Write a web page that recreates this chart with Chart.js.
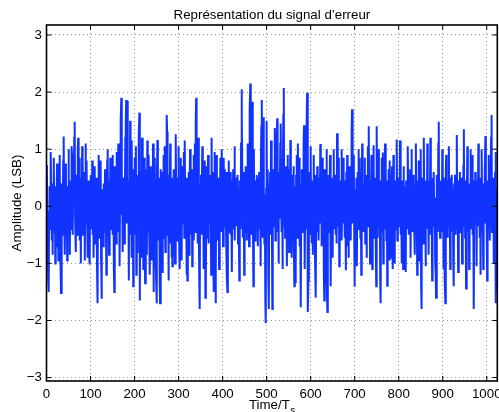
<!DOCTYPE html>
<html>
<head>
<meta charset="utf-8">
<script src="https://cdn.jsdelivr.net/npm/chart.js@4.4.0/dist/chart.umd.min.js"></script>
<style>
    html, body { margin: 0; padding: 0; background: #fff; }
    #wrap { width: 499px; height: 412px; }
</style>
</head>
<body>
<div id="wrap"><canvas id="errChart" width="499" height="412"></canvas></div>
<script>
// Chart texts
const titleText = 'Représentation du signal d’erreur';
const yLabelText = 'Amplitude (LSB)';
const xLabelText = 'Time/T';
const xLabelSub = 's';

// Tick labels
const xTicks = [0, 100, 200, 300, 400, 500, 600, 700, 800, 900, 1000];
const yTicks = [-3, -2, -1, 0, 1, 2, 3];

// Error signal, one value per sample (LSB)
const errorSignal = [
    0.72, 0.6, -0.35, -0.9, -1.3, -1.5, -0.1, 0.35, -0.4, 0.8, 0.95, 0.15, -0.6, 0.25, -0.85, 0.4,
    -0.05, 0.85, -0.45, 0.2, -1.0, 0.35, -0.7, 0.1, 0.75, -0.35, 0.05, -0.95, 0.3, -0.15, 0.9, -0.4,
    -1.1, -1.52, -0.15, 0.4, -0.5, 0.05, 0.8, 1.22, -0.1, 0.4, -0.85, 0.25, 0.75, -0.2, 0.15, -0.95,
    0.35, -0.05, 1.0, -0.3, 0.2, -0.85, 0.45, 0.05, -0.4, 1.05, 0.9, 0.3, -0.5, 0.55, 0.0, 1.2,
    1.48, -0.2, 0.3, -0.8, 0.55, 0.1, -0.5, 1.0, 1.2, -0.3, 0.15, 0.85, -0.6, 0.25, -1.0, 0.5,
    -0.35, 1.05, 0.9, -0.5, 0.4, -0.2, 0.6, -0.95, 0.2, 1.1, -0.3, 0.8, -0.05, 0.3, -0.9, 0.1,
    0.45, -0.85, -1.02, 0.15, 0.55, -0.4, 0.05, -0.2, 0.8, -0.5, 0.2, -0.9, 0.4, -0.45, 0.7, -0.65,
    0.05, 0.5, -0.3, -1.2, -1.7, 0.35, -0.15, 0.9, -0.55, 0.1, -0.35, 0.8, -0.9, -1.62, 0.3, -0.2,
    0.15, -0.7, 0.4, -0.45, 0.05, 0.65, -0.25, 0.3, -1.2, 0.2, 0.8, 1.0, -0.5, 0.45, -0.85, 0.2,
    -0.6, 0.85, 0.1, -0.4, 0.55, -0.2, 0.9, -0.5, 0.4, -1.1, -1.5, 0.7, -0.2, 0.3, -0.65, 0.95,
    -0.1, 0.2, -0.45, 1.1, -0.3, 0.4, -1.05, 0.15, 0.6, 1.5, 1.9, -0.15, 0.3, -0.8, 0.45, -0.25,
    0.5, -0.65, 0.05, 1.2, 1.4, 1.86, -0.3, 0.2, 1.85, -0.2, 0.35, -1.3, 0.45, -0.5, 1.5, -0.1,
    0.3, -0.9, 1.15, -0.35, 0.15, -1.4, 0.65, -0.05, 0.85, -0.5, 0.25, 1.05, -1.2, 0.1, -0.8, 0.55,
    -0.2, 0.45, 1.2, 1.64, -1.65, 0.3, -0.15, 0.6, -0.9, 1.2, -0.25, 0.2, -1.1, 0.5, 0.85, -0.35,
    -1.35, 0.65, -0.2, 0.35, -0.85, 1.15, 0.05, -0.45, 0.9, -0.3, 0.2, -1.2, 0.7, -0.05, 0.4, -0.95,
    0.3, -0.2, 1.1, -1.5, 0.15, 0.85, -0.4, 0.45, -1.0, -1.3, -1.7, 0.35, 1.16, -0.3, 0.2, -0.6,
    0.5, -1.3, -1.7, 0.3, 0.65, -0.45, 0.1, -1.15, 0.6, -0.25, 0.9, -0.55, 1.05, 0.05, -0.8, 0.2,
    -0.5, 1.6, 1.3, 0.3, 0.55, -1.3, 0.4, -0.3, 0.15, 1.1, -0.65, 0.25, -0.9, 0.5, -1.05, 0.35,
    -0.2, 0.65, -0.85, 0.1, -1.0, 0.9, 1.26, -0.3, 0.2, -0.6, 0.5, -0.15, 1.05, -0.5, 0.3, -1.1,
    0.2, 0.85, -0.4, -0.95, 0.45, -0.1, 0.7, -0.3, 0.95, -0.55, 1.15, 0.05, -0.45, 0.35, -1.2, 0.5,
    -1.3, 0.3, -0.05, 0.6, -0.85, 0.15, 1.0, -0.5, 0.4, -0.2, 0.65, -1.05, 0.2, -0.3, 0.9, -0.6,
    0.1, 1.1, -0.45, 1.5, 1.9, -0.2, 0.5, -0.65, 0.25, 1.2, -0.35, -1.3, -1.8, 0.4, -0.25, 0.55,
    -0.5, 0.2, 1.05, -0.3, 0.35, -1.1, 0.6, -0.15, 0.8, -1.6, -1.2, -0.2, 0.7, -0.55, 0.05, 0.9,
    -0.65, 0.2, -0.3, 0.55, -0.1, 0.35, -1.2, 1.2, -0.4, 0.6, 0.05, -1.1, -1.5, 0.45, 0.95, -0.25,
    -1.7, -1.2, 0.9, -0.2, 0.4, -0.6, 0.15, 0.5, -1.1, 0.25, -0.3, 0.85, -0.45, 0.1, 1.0, -0.2,
    0.35, -0.7, 0.2, 0.85, -0.35, 0.65, -0.15, 0.3, -0.55, 0.6, -1.2, -1.5, 0.5, -0.25, 0.8, -0.45,
    0.2, 0.6, -0.5, 0.3, -0.05, -1.15, 0.45, -0.3, 0.65, -0.4, 0.15, 1.05, -0.6, 0.25, -0.2, 0.5,
    -0.35, 0.1, 0.55, -0.65, 0.3, -0.2, -1.3, 0.45, 0.05, -0.4, 1.1, 2.05, 1.6, 0.35, -0.55, 0.2,
    0.6, -1.2, 0.3, -0.45, 0.7, -0.1, 0.4, -0.6, 0.15, 1.1, -0.3, 0.5, -0.7, 0.2, 1.7, 2.15,
    -0.2, 0.65, -0.5, 1.4, 1.83, 0.1, -1.4, 1.0, -0.35, 0.25, -0.6, 0.45, -0.15, 0.55, -0.45, 0.5,
    -0.7, 0.3, -0.05, 0.6, -0.4, 0.2, -1.05, 0.45, 1.4, 1.86, 0.05, -0.55, 1.56, -0.3, 0.35, -0.65,
    0.2, -1.6, -2.05, 0.3, 1.5, -0.45, 0.15, 0.65, -1.3, -1.8, 0.4, -0.1, 0.6, -0.5, 1.15, -0.3,
    0.45, -1.8, 0.25, -0.35, 0.65, -0.2, 1.1, 1.37, -0.6, 0.35, -0.3, 1.2, 1.54, -0.45, 0.15, -1.0,
    0.6, -0.2, 0.3, 1.1, 1.45, 0.05, -0.45, 0.5, -1.1, 0.3, 1.6, 2.07, -0.35, 0.4, -0.55, 0.7,
    -0.25, 0.2, -1.05, 0.45, 0.9, -0.5, 0.65, -0.8, 0.3, -0.1, 1.16, -0.65, 0.4, -0.9, 0.55, -0.4,
    0.15, 0.7, -0.45, -1.4, 0.35, 0.05, -1.35, 0.55, -0.2, 0.9, -0.55, 1.1, -0.3, 0.2, 0.85, -0.7,
    0.4, -1.4, -1.77, 0.3, 0.65, -0.45, 0.1, -0.3, 1.1, 1.42, -0.2, -1.1, 0.45, -0.4, 0.25, 1.5,
    1.99, 0.15, -1.85, -1.3, -0.3, 0.6, -0.5, 0.2, 1.05, -0.1, -0.65, 0.45, 0.05, -0.85, 0.3, 0.9,
    -0.55, 0.2, -0.95, 0.55, -1.6, 0.4, -0.05, 0.7, -0.45, 0.3, -0.6, 0.1, 0.5, -0.3, 1.09, -0.2,
    0.35, -0.7, 0.2, 0.85, -0.35, 0.45, -1.2, -1.65, 0.65, -0.25, 0.3, -0.55, 1.0, -1.3, -1.85, 0.45,
    -0.2, 0.55, -0.45, 0.25, 0.9, -0.1, -1.4, 0.4, -0.3, 0.5, -0.9, 0.15, 1.0, -0.4, 0.3, -0.05,
    0.55, -0.5, 0.2, -0.65, 1.28, -0.2, 0.4, -0.35, 0.85, -1.05, 0.1, 0.45, -0.25, 0.3, 1.0, -0.6,
    0.2, -0.3, 0.85, -0.15, 0.35, -0.55, 0.45, 0.05, -1.12, 0.6, -0.2, 0.9, -0.7, 0.5, -0.9, 0.25,
    0.7, -0.45, 0.1, -0.6, 0.4, 1.3, 1.7, -0.3, 0.45, -0.2, 0.9, -0.5, -1.41, 0.3, 0.15, -0.85,
    0.5, -1.05, 0.25, 0.6, -0.2, 1.0, -0.4, 0.05, 0.85, -0.55, 0.3, -1.2, 0.2, 1.1, -0.3, 0.4,
    -0.45, 0.2, -0.1, 0.85, -0.65, 0.35, 0.05, -0.9, 0.55, -0.25, 1.05, -0.35, 1.4, -0.15, 0.3, -1.0,
    0.45, -0.3, 0.9, 0.65, -1.1, 0.25, -0.2, 1.07, -0.55, 0.4, -0.05, 0.5, -0.7, -1.4, 1.4, -0.2,
    0.3, -0.55, 1.0, 0.05, -0.35, 0.45, -1.3, -1.7, 0.2, 0.85, -0.45, 0.15, 0.94, -1.0, 0.35, -0.15,
    0.25, 1.1, -0.4, 0.1, -0.6, 0.45, -1.39, 0.3, -0.15, 0.65, -0.3, -0.95, 0.8, -0.45, 0.2, -0.9,
    0.4, 0.7, 0.55, -1.1, 0.9, -0.3, 0.2, -1.0, 0.45, 0.05, -0.4, 0.3, 1.17, -0.6, 0.25, -0.1,
    0.5, -0.35, 0.15, 1.15, -0.5, 0.3, -0.2, -1.0, 0.45, 0.05, -1.1, 0.7, -0.25, 0.35, -0.9, 0.2,
    -1.15, 0.45, -0.1, 0.3, -0.4, 1.05, 0.05, -0.5, 0.25, -0.3, 0.65, -0.9, 0.2, 1.0, -0.2, 0.4,
    -0.45, 0.15, 0.55, -0.3, 0.35, -0.85, 0.2, 1.1, -0.15, 0.45, -1.2, 0.3, -0.35, 0.8, -0.05, -0.95,
    0.3, -0.25, 1.0, -1.4, -1.8, 0.4, -0.1, 0.5, -0.65, 1.2, 0.2, -0.3, 0.45, -1.05, 0.25, 0.05,
    -0.4, 1.1, -0.2, 0.3, -0.85, 0.45, 0.05, -0.3, 1.2, -0.5, 0.2, -0.1, -1.3, 0.5, -0.35, 0.3,
    0.6, -0.25, 0.15, -1.0, -1.2, -1.6, 0.55, -0.2, 0.3, -0.45, 1.1, 1.48, -0.3, 0.1, -0.55, 0.45,
    -0.15, 0.35, -0.45, 1.0, -0.3, 0.2, -1.1, 0.5, 0.05, -1.3, -1.7, 0.6, 0.9, 0.3, 0.4, -0.55,
    0.45, -0.2, 1.05, -0.35, 0.15, -1.1, 0.5, 0.05, -0.45, 0.55, -0.25, 0.3, -1.0, -1.4, 0.4, -0.1,
    0.55, -0.5, 0.25, -0.15, 1.25, -0.4, 0.2, -1.15, 0.45, 0.05, -0.3, 0.6, -0.45, 0.3, -0.05, 0.5,
    -1.0, 0.2, -0.25, 0.7, 1.35, -0.35, 0.1, -0.55, 0.45, -1.44, 0.3, -0.15, 1.05, -0.45, 0.2, 0.4,
    -1.1, 0.3, -0.2, 1.0, -0.4, 0.15, -0.05, 0.9, -0.5, 0.35, -1.3, -1.8, 0.45, -0.3, 0.6, -0.2,
    0.25, -1.05, 0.45, 0.1, -0.35, 1.1, -0.2, 0.3, -0.55, 0.5, -1.2, 0.2, -0.1, 1.0, -0.45, 0.3,
    -1.1, 0.4, 0.05, -0.3, 0.6, 1.23, -0.25, 0.2, -0.5, -1.3, 0.45, -0.15, 0.9, -0.4, 0.3, -0.6,
    0.15, 0.65, 1.2, 1.6, -0.45, 0.25, -0.1, 0.5, -1.0, 0.35, -0.2, 0.6, 0.95, -1.7, 0.3, -1.5
];

const fontFamily = '"Liberation Sans", Arial, Helvetica, sans-serif';
const fontSize = 13.3;

// Frame, inner ticks and the three labels, drawn over the plot like MATLAB does
const matlabFrame = {
    id: 'matlabFrame',
    afterDraw(chart) {
        const ctx = chart.ctx;
        const area = chart.chartArea;
        const xs = chart.scales.x;
        const ys = chart.scales.y;
        ctx.save();

        // inward ticks on all four sides
        ctx.strokeStyle = '#000';
        ctx.lineWidth = 1;
        ctx.beginPath();
        xTicks.forEach(v => {
            const px = xs.getPixelForValue(v);
            ctx.moveTo(px, area.bottom);
            ctx.lineTo(px, area.bottom - 5);
            ctx.moveTo(px, area.top);
            ctx.lineTo(px, area.top + 5);
        });
        yTicks.forEach(v => {
            const py = ys.getPixelForValue(v);
            ctx.moveTo(area.left, py);
            ctx.lineTo(area.left + 5, py);
            ctx.moveTo(area.right, py);
            ctx.lineTo(area.right - 5, py);
        });
        ctx.stroke();

        // box
        ctx.lineWidth = 1.6;
        ctx.strokeRect(area.left, area.top, area.right - area.left, area.bottom - area.top);

        // title
        ctx.fillStyle = '#000';
        ctx.font = fontSize + 'px ' + fontFamily;
        ctx.textAlign = 'center';
        ctx.textBaseline = 'alphabetic';
        ctx.fillText(titleText, (area.left + area.right) / 2, 18.5);

        // y label
        ctx.save();
        ctx.translate(21, (area.top + area.bottom) / 2);
        ctx.rotate(-Math.PI / 2);
        ctx.fillText(yLabelText, 0, 0);
        ctx.restore();

        // x label with subscript
        const mainW = ctx.measureText(xLabelText).width;
        ctx.font = '10px ' + fontFamily;
        const subW = ctx.measureText(xLabelSub).width;
        const startX = (area.left + area.right) / 2 - (mainW + subW) / 2;
        ctx.textAlign = 'left';
        ctx.font = fontSize + 'px ' + fontFamily;
        ctx.fillText(xLabelText, startX, 408.5);
        ctx.font = '10px ' + fontFamily;
        ctx.fillText(xLabelSub, startX + mainW + 0.5, 414);

        ctx.restore();
    }
};

function initErrorChart() {
    const ctx = document.getElementById('errChart').getContext('2d');

    const points = errorSignal.map((v, i) => ({ x: i, y: v }));

    const config = {
        type: 'line',
        data: {
            datasets: [{
                data: points,
                borderColor: '#1133ff',
                borderWidth: 2,
                pointRadius: 0,
                tension: 0,
                fill: false
            }]
        },
        options: {
            responsive: false,
            animation: false,
            events: [],
            layout: {
                padding: { top: 25, right: 1.7, left: 0, bottom: 0 }
            },
            plugins: {
                legend: { display: false },
                tooltip: { enabled: false },
                title: { display: false }
            },
            scales: {
                x: {
                    type: 'linear',
                    min: 0,
                    max: 1024,
                    afterBuildTicks: scale => { scale.ticks = xTicks.map(v => ({ value: v })); },
                    afterFit: scale => {
                        scale.height = 31;
                        scale.paddingLeft = 0;
                        scale.paddingRight = 0;
                    },
                    grid: {
                        color: 'rgba(0,0,0,0.4)',
                        lineWidth: 1,
                        drawTicks: false
                    },
                    border: { display: false, dash: [1, 3] },
                    ticks: {
                        color: '#000',
                        padding: 5,
                        maxRotation: 0,
                        autoSkip: false,
                        callback: v => String(v),
                        font: { family: fontFamily, size: fontSize }
                    }
                },
                y: {
                    min: -3.06,
                    max: 3.175,
                    afterBuildTicks: scale => { scale.ticks = yTicks.map(v => ({ value: v })); },
                    afterFit: scale => {
                        scale.width = 46.5;
                        scale.paddingTop = 0;
                        scale.paddingBottom = 0;
                    },
                    grid: {
                        color: 'rgba(0,0,0,0.4)',
                        lineWidth: 1,
                        drawTicks: false
                    },
                    border: { display: false, dash: [1, 3] },
                    ticks: {
                        color: '#000',
                        padding: 4.5,
                        autoSkip: false,
                        callback: v => String(v).replace('-', '\u2212'),
                        font: { family: fontFamily, size: fontSize }
                    }
                }
            }
        },
        plugins: [matlabFrame]
    };

    new Chart(ctx, config);
}

initErrorChart();
</script>
</body>
</html>
